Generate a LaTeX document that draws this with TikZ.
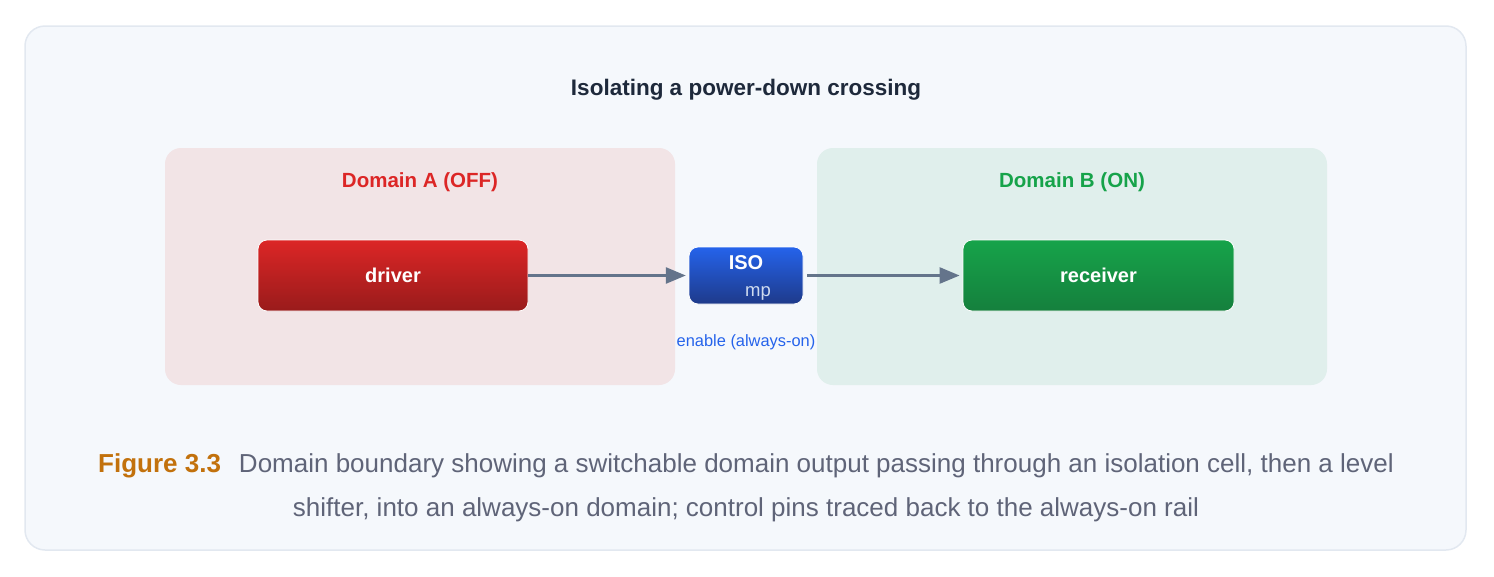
\documentclass[tikz,border=0pt]{standalone}
\usepackage{fontspec}
\setmainfont{Liberation Sans}
\definecolor{bgc}{HTML}{F5F8FC}
\definecolor{bgs}{HTML}{E2E8F0}
\definecolor{titc}{HTML}{1E293B}
\definecolor{redA}{HTML}{DC2626}
\definecolor{redB}{HTML}{991B1B}
\definecolor{grA}{HTML}{16A34A}
\definecolor{grB}{HTML}{15803D}
\definecolor{blA}{HTML}{2563EB}
\definecolor{blB}{HTML}{1E3A8A}
\definecolor{arr}{HTML}{64748B}
\definecolor{domA}{HTML}{F2E4E6}
\definecolor{domB}{HTML}{E0EFEC}
\definecolor{capc}{HTML}{5F6478}
\definecolor{figc}{HTML}{C2710C}
\usetikzlibrary{arrows.meta}
\begin{document}
\begin{tikzpicture}[x=1pt,y=-1pt,
  dom/.style={rounded corners=16pt,draw=none},
  blk/.style={rounded corners=9pt,draw=white,line width=0.8pt,text=white,font=\bfseries\fontsize{20}{24}\selectfont},
  con/.style={draw=arr,line width=2.6pt,-{Triangle[length=20pt,width=16pt]}}]
\useasboundingbox (0,0) rectangle (1494,576);
\draw[fill=bgc,draw=bgs,line width=1.5pt,rounded corners=20pt] (25,26) rectangle (1466,550);
\node[font=\bfseries\fontsize{22.5}{26}\selectfont,text=titc] (title) at (746,90) {Isolating a power-down crossing};
\path[dom,fill=domA] (165,148) rectangle (675,385);
\path[dom,fill=domB] (817,148) rectangle (1327,385);
\node[font=\bfseries\fontsize{20.5}{24}\selectfont,text=redA] (la) at (420,182) {Domain A (OFF)};
\node[font=\bfseries\fontsize{20.5}{24}\selectfont,text=grA] (lb) at (1072,182) {Domain B (ON)};
\shade[top color=redA,bottom color=redB,rounded corners=9pt] (258,240) rectangle (528,311);
\draw[white,line width=0.8pt,rounded corners=9pt] (258,240) rectangle (528,311);
\node[blk,draw=none,minimum width=270pt,minimum height=71pt] (drv) at (393,275.5) {driver};
\shade[top color=blA,bottom color=blB,rounded corners=9pt] (689,247) rectangle (803,304);
\draw[white,line width=0.8pt,rounded corners=9pt] (689,247) rectangle (803,304);
\node[draw=none,minimum width=114pt,minimum height=57pt,inner sep=0pt] (iso) at (746,275.5) {};
\node[text=white,font=\bfseries\fontsize{20}{24}\selectfont] (isot) at (746,263) {ISO};
\node[text=bgs!90!blA,font=\fontsize{18.5}{22}\selectfont] (mp) at (758,293) {mp};
\shade[top color=grA,bottom color=grB,rounded corners=9pt] (963,240) rectangle (1234,311);
\draw[white,line width=0.8pt,rounded corners=9pt] (963,240) rectangle (1234,311);
\node[blk,draw=none,minimum width=271pt,minimum height=71pt] (rcv) at (1098.5,275.5) {receiver};
\draw[con] (drv.east) -- ([xshift=-3pt]iso.west);
\draw[con] ([xshift=4pt]iso.east) -- ([xshift=-3pt]rcv.west);
\node[text=blA,font=\fontsize{16.4}{19}\selectfont] (en) at (746,342) {enable (always-on)};
\node[font=\fontsize{26}{44}\selectfont,text=capc,align=center] (cap) at (746,488)
{{\color{figc}\bfseries Figure 3.3}\hspace{18pt}Domain boundary showing a switchable domain output passing through an isolation cell, then a level\\ shifter, into an always-on domain; control pins traced back to the always-on rail};
\end{tikzpicture}
\end{document}
